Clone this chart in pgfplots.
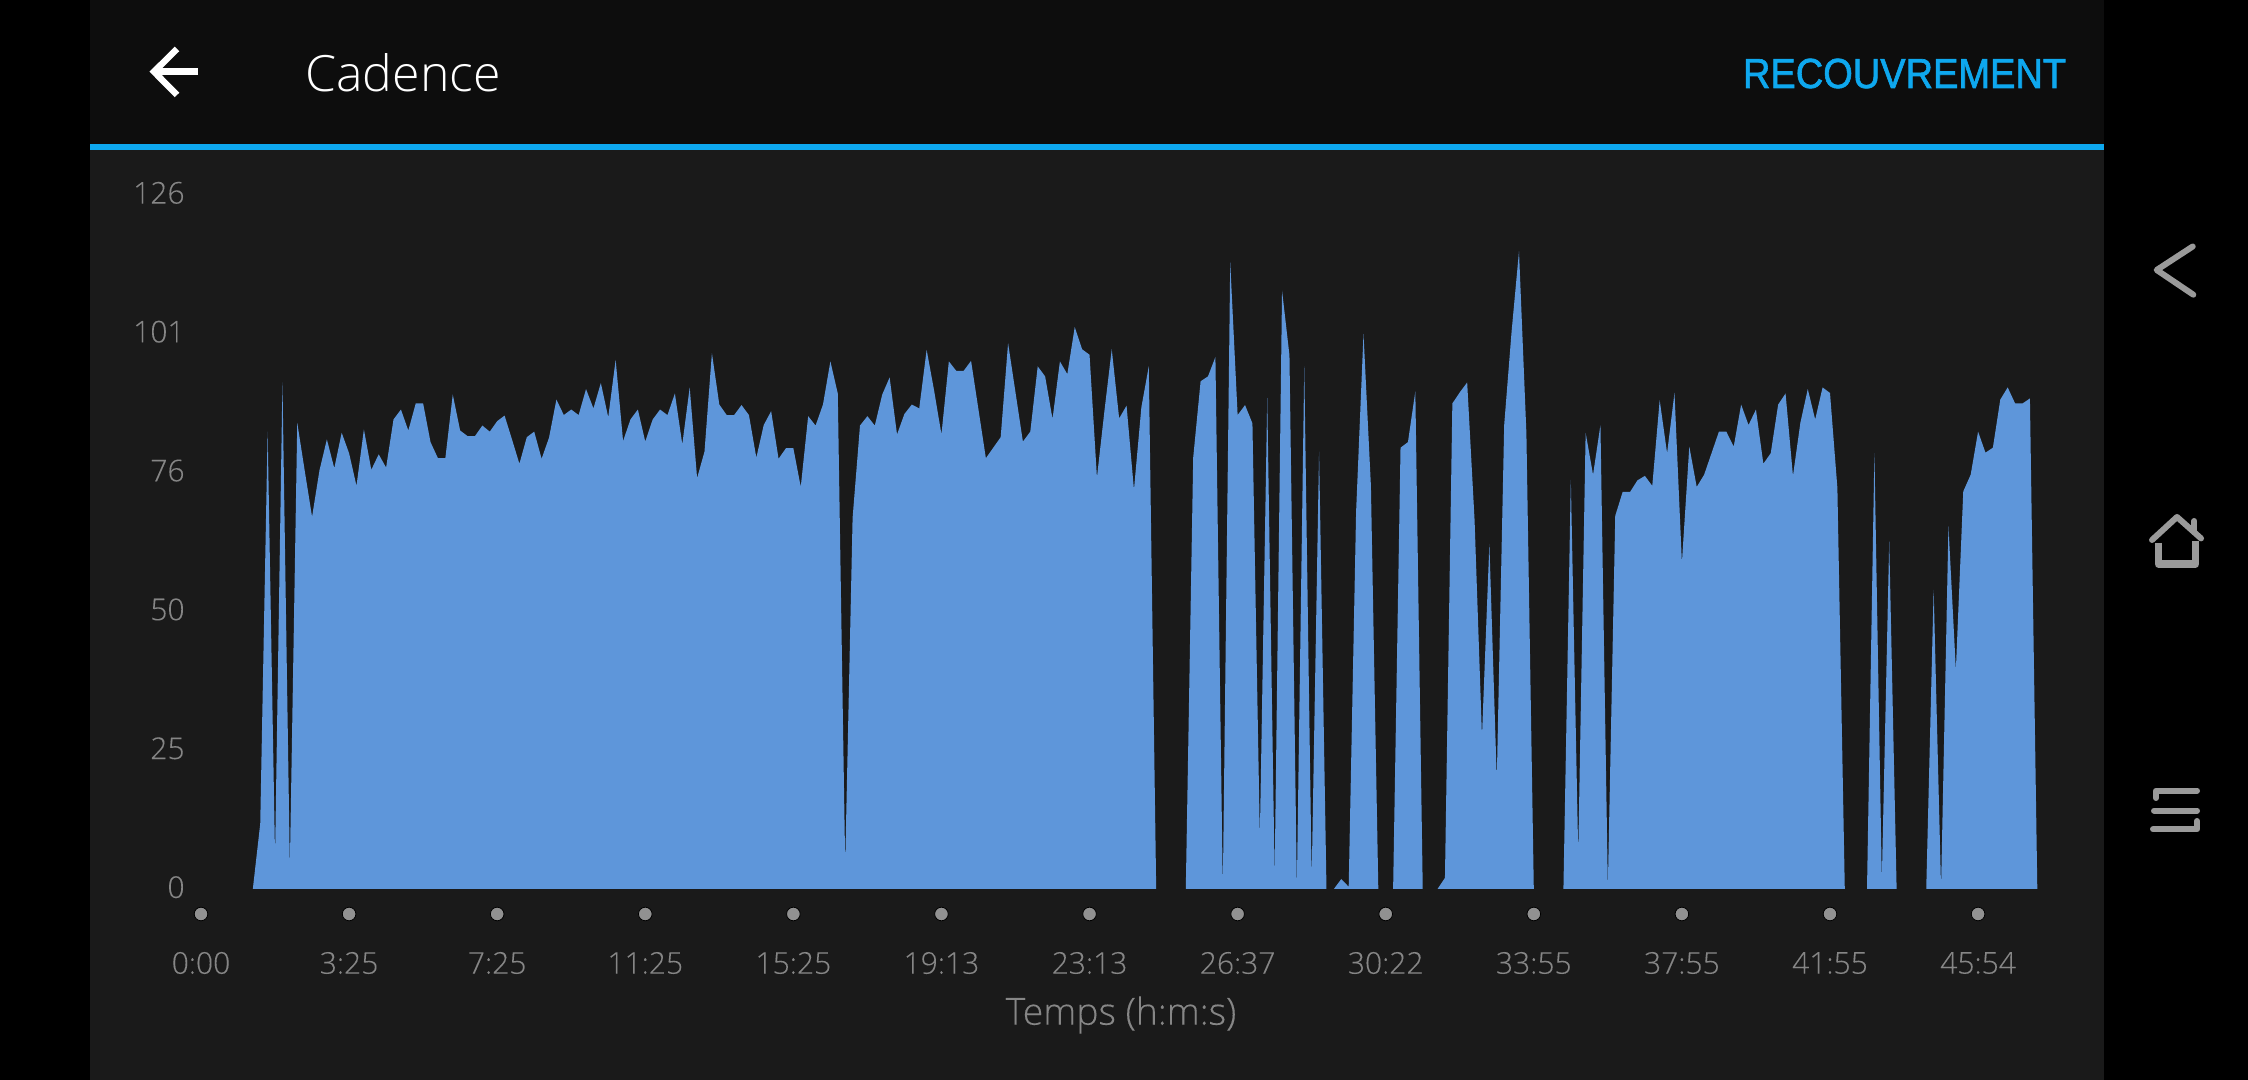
\documentclass[border=0pt]{standalone}
\usepackage{fontspec}
\setmainfont{Liberation Sans}
\newfontfamily\lightfont{Open Sans Light}
\newfontfamily\labelfont[FakeBold=0.15]{Open Sans Light}
\newfontfamily\medfont[FakeBold=1.6]{Liberation Sans}
\usepackage{pgfplots}
\pgfplotsset{compat=1.18}
\definecolor{screen}{HTML}{000000}
\definecolor{header}{HTML}{0D0D0D}
\definecolor{panel}{HTML}{1A1A1A}
\definecolor{accent}{HTML}{0EA8EF}
\definecolor{cadfill}{HTML}{5E96DA}
\definecolor{lbl}{HTML}{868686}
\definecolor{dot}{HTML}{919191}
\definecolor{nav}{HTML}{9A9A9A}
\pgfplotsset{cad/.style={fill=cadfill, draw=none}}
\begin{document}
\begin{tikzpicture}
% 1 reference pixel = 0.5pt
\begin{scope}[x=0.5pt,y=-0.5pt,yshift=540pt]
\useasboundingbox (0,0) rectangle (2248,1080);
\fill[screen] (0,0) rectangle (2248,1080);
\fill[panel] (90,150) rectangle (2104,1080);
\fill[header] (90,0) rectangle (2104,144);
\fill[accent] (90,144) rectangle (2104,150);
\end{scope}

\begin{axis}[
    at={(100.5pt,95.5pt)},
    anchor=south west,
    scale only axis,
    width=920pt,
    height=348.4pt,
    xmin=0, xmax=248.5,
    ymin=0, ymax=126,
    clip=false,
    axis line style={draw=none},
    tick style={draw=none},
    major tick length=0pt,
    % the app spaces its labels evenly and rounds them
    ytick={0.33,25.44,50.55,75.66,100.77,125.88},
    yticklabels={0,25,50,76,101,126},
    xtick={0,20,40,60,80,100,120,140,160,180,200,220,240},
    xticklabels={0:00,3:25,7:25,11:25,15:25,19:13,23:13,26:37,30:22,33:55,37:55,41:55,45:54},
    ticklabel style={font=\labelfont\fontsize{15}{17}\selectfont, text=lbl},
    yticklabel style={anchor=east, inner xsep=0pt, xshift=-8pt},
    xticklabel style={anchor=center, inner sep=0pt, yshift=-37pt},
    xlabel={Temps (h:m:s)},
    xlabel style={at={(axis description cs:0.5,0)}, anchor=center, yshift=-63pt,
        font=\labelfont\fontsize{18.7}{21}\selectfont, text=lbl},
]
\addplot[cad] coordinates {
(7,0) (8,11.8) (9,82.7) (10,5.9) (11,91.6) (12,4.1) (13,84.3) (14,75.7) (15,67.3) (16,75.7)
(17,81.3) (18,76.1) (19,82.5) (20,78.8) (21,72.9) (22,83.1) (23,75.8) (24,78.6) (25,76.2) (26,84.9)
(27,86.7) (28,82.9) (29,87.8) (30,87.8) (31,80.8) (32,77.9) (33,77.9) (34,89.4) (35,82.9) (36,81.9)
(37,81.9) (38,83.8) (39,82.7) (40,84.6) (41,85.6) (42,81.3) (43,76.9) (44,81.7) (45,82.7) (46,77.8)
(47,81.6) (48,88.5) (49,85.7) (50,86.7) (51,85.7) (52,90.4) (53,86.9) (54,91.5) (55,85.3) (56,95.7)
(57,81.0) (58,84.9) (59,86.7) (60,80.9) (61,84.9) (62,86.7) (63,85.7) (64,89.6) (65,80.4) (66,90.7)
(67,74.3) (68,79.1) (69,96.9) (70,87.6) (71,85.7) (72,85.7) (73,87.5) (74,85.7) (75,78.0) (76,83.9)
(77,86.4) (78,77.8) (79,79.7) (80,79.7) (81,72.7) (82,85.5) (83,83.8) (84,87.6) (85,95.4) (86,89.6)
(87,4.5) (88,67.1) (89,83.8) (90,85.5) (91,83.8) (92,89.4) (93,92.5) (94,82.2) (95,85.9) (96,87.6)
(97,86.9) (98,97.5) (99,90.2) (100,82.2) (101,95.4) (102,93.7) (103,93.7) (104,95.5) (105,86.7) (106,77.9)
(107,79.8) (108,81.7) (109,98.7) (110,89.8) (111,80.9) (112,82.7) (113,94.5) (114,92.7) (115,85.0) (116,95.4)
(117,93.1) (118,101.6) (119,97.6) (120,96.6) (121,74.4) (122,86.3) (123,97.6) (124,85.1) (125,87.4) (126,72.2)
(127,87.1) (128,94.5) (129,0)
} \closedcycle;
\addplot[cad] coordinates {
(133,0) (134,78.0) (135,91.8) (136,92.7)
(137,96.2) (138,0) (139,113.3) (140,85.7) (141,87.5) (142,84.2) (143,9.4) (144,88.8) (145,2.4) (146,108.2)
(147,96.5) (148,0.4) (149,94.5) (150,1.8) (151,79.1) (152,0)
} \closedcycle;
\addplot[cad] coordinates {
(153,0) (154,1.8) (155,0.4) (156,68.2) (157,100.4) (158,72.9) (159,0)
} \closedcycle;
\addplot[cad] coordinates {
(161,0) (162,79.8) (163,80.8) (164,90.0) (165,0)
} \closedcycle;
\addplot[cad] coordinates {
(167,0) (168,2.0) (169,87.8) (170,89.8) (171,91.6) (172,66.7) (173,27.6) (174,62.4) (175,19.8) (176,83.9)
(177,100.8) (178,115.3) (179,82.4) (180,0)
} \closedcycle;
\addplot[cad] coordinates {
(184,0) (185,74.0) (186,6.3)
(187,82.5) (188,74.9) (189,83.9) (190,0.4) (191,67.5) (192,71.8) (193,71.8) (194,73.9) (195,74.7) (196,72.9)
(197,88.4) (198,78.8) (199,89.7) (200,59.0) (201,80.0) (202,72.7) (203,74.9) (204,78.8) (205,82.7) (206,82.7)
(207,80.0) (208,87.6) (209,83.9) (210,86.7) (211,76.9) (212,78.8) (213,87.6) (214,89.6) (215,74.7) (216,84.3)
(217,90.4) (218,84.9) (219,90.7) (220,89.7) (221,72.5) (222,0)
} \closedcycle;
\addplot[cad] coordinates {
(225,0) (226,78.8) (227,1.6) (228,62.9) (229,0)
} \closedcycle;
\addplot[cad] coordinates {
(233,0) (234,54.1) (235,0.2) (236,65.6)
(237,39.6) (238,71.9) (239,74.9) (240,82.7) (241,78.9) (242,79.8) (243,88.5) (244,90.7) (245,87.8) (246,87.8)
(247,88.7) (248,0)
} \closedcycle;
% the dots under the time axis
\addplot[only marks, mark=*, mark size=3.4pt, mark options={fill=dot, draw=none}] coordinates {
(0,-4.52) (20,-4.52) (40,-4.52) (60,-4.52) (80,-4.52) (100,-4.52) (120,-4.52)
(140,-4.52) (160,-4.52) (180,-4.52) (200,-4.52) (220,-4.52) (240,-4.52)
};
\end{axis}

\begin{scope}[x=0.5pt,y=-0.5pt,yshift=540pt]
% header
\draw[white, line width=3.2pt] (198,71.7) -- (153,71.7);
\draw[white, line width=3.2pt, miter limit=4] (177,49) -- (154,71.7) -- (177,95);
\node[anchor=base west, inner sep=0pt, text=white] at (305,92)
    {\lightfont\fontsize{25}{30}\selectfont Cadence};
\node[anchor=base east, inner sep=0pt, text=accent] at (2066.5,88)
    {\scalebox{0.905}[1]{\medfont\fontsize{21}{25}\selectfont RECOUVREMENT}};
% navigation bar
\draw[nav, line width=3pt, line cap=round, line join=round]
    (2192.7,246.5) -- (2156.7,270) -- (2193.3,294.7);
\draw[nav, line width=3pt, line cap=round, line join=round]
    (2152,540) -- (2177,517) -- (2201,538.4);
\draw[nav, line width=3pt, line cap=round] (2194.3,521) -- (2194.3,532);
\draw[nav, line width=3.6pt, line join=round] (2158.3,543) -- (2158.3,564) -- (2195.7,564) -- (2195.7,541);
\draw[nav, line width=3pt, line cap=round, line join=round]
    (2156,798) -- (2156,790.6) -- (2197,790.6);
\draw[nav, line width=3pt, line cap=round] (2154,810.6) -- (2197,810.6);
\draw[nav, line width=3pt, line cap=round, line join=round]
    (2153,829.4) -- (2197,829.4) -- (2197,821);
\end{scope}
\end{tikzpicture}
\end{document}
